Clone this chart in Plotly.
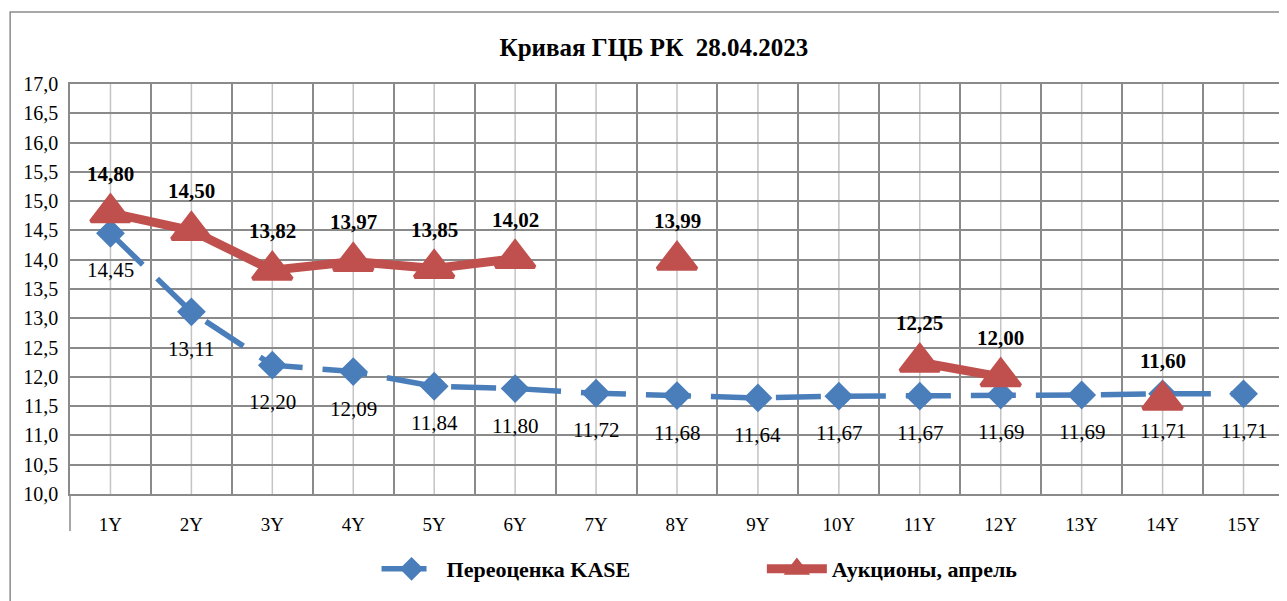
import plotly.graph_objects as go

categories = ["1Y", "2Y", "3Y", "4Y", "5Y", "6Y", "7Y", "8Y", "9Y", "10Y", "11Y", "12Y", "13Y", "14Y", "15Y"]
kase_values = [14.45, 13.11, 12.20, 12.09, 11.84, 11.80, 11.72, 11.68, 11.64, 11.67, 11.67, 11.69, 11.69, 11.71, 11.71]
auction_values = [14.80, 14.50, 13.82, 13.97, 13.85, 14.02, None, 13.99, None, None, 12.25, 12.00, None, 11.60, None]
y_ticks = [10.0 + 0.5 * i for i in range(15)]

BLUE = "#4A7EBB"
RED = "#C0504D"
DARK_GRID = "#8A8A8A"
LIGHT_GRID = "#C4C4C4"
FONT = "Liberation Serif"

fig = go.Figure()

fig.add_trace(go.Scatter(
    x=categories, y=kase_values, name="<b>Переоценка KASE</b>",
    mode="lines+markers",
    line=dict(color=BLUE, width=5.5, dash="45px,20px"),
    marker=dict(symbol="diamond", size=20, color=BLUE, line=dict(color=BLUE, width=2)),
    legend="legend",
))
fig.add_trace(go.Scatter(
    x=categories, y=auction_values, name="<b>Аукционы, апрель</b>",
    mode="lines+markers", connectgaps=False,
    line=dict(color=RED, width=9),
    marker=dict(symbol="triangle-up", size=34, color=RED, line=dict(color=RED, width=4)),
    legend="legend2",
))

annotations = []
for c, v in zip(categories, kase_values):
    annotations.append(dict(x=c, y=v, xref="x", yref="y", text=f"{v:.2f}".replace(".", ","),
                            showarrow=False, yshift=-37,
                            font=dict(family=FONT, size=21, color="black")))
for c, v in zip(categories, auction_values):
    if v is None:
        continue
    annotations.append(dict(x=c, y=v, xref="x", yref="y", text=f"<b>{v:.2f}</b>".replace(".", ","),
                            showarrow=False, yshift=39,
                            font=dict(family=FONT, size=21, color="black")))

shapes = []
# light center gridlines at each category
for i, c in enumerate(categories):
    shapes.append(dict(type="line", xref="x", yref="paper", x0=i, x1=i, y0=0, y1=1,
                       line=dict(color=LIGHT_GRID, width=1.5), layer="below"))
# axis extensions below the plot
shapes.append(dict(type="line", xref="paper", yref="paper", x0=0, x1=0, y0=0, y1=-0.09,
                   line=dict(color=DARK_GRID, width=1.5)))
shapes.append(dict(type="line", xref="paper", yref="paper", x0=1, x1=1, y0=0, y1=-0.09,
                   line=dict(color=DARK_GRID, width=1.5)))
# outer chart border
shapes.append(dict(type="rect", xref="paper", yref="paper", x0=-0.0493, x1=1.02, y0=-0.3, y1=1.1756,
                   line=dict(color="#8C8C8C", width=1.5), fillcolor="rgba(0,0,0,0)"))

fig.update_layout(
    width=1279, height=593,
    margin=dict(l=62, r=1, t=76, b=107),
    paper_bgcolor="white", plot_bgcolor="white",
    separators=", ",
    title=dict(text="<b>Кривая ГЦБ РК\u00a0 28.04.2023</b>", x=0.505, xanchor="center", y=0.934, yanchor="middle",
               font=dict(family=FONT, size=25, color="black")),
    xaxis=dict(type="category", categoryorder="array", categoryarray=categories,
               range=[-0.5, len(categories) - 0.5],
               tickson="boundaries", showgrid=True, gridcolor=DARK_GRID, gridwidth=1.5,
               showline=True, linecolor=DARK_GRID, linewidth=1.5, mirror=True,
               ticks="", ticklabelstandoff=12,
               tickfont=dict(family=FONT, size=19, color="black")),
    yaxis=dict(range=[10, 17], tickmode="array", tickvals=y_ticks, tickformat=".1f",
               showgrid=True, gridcolor=DARK_GRID, gridwidth=1.5, zeroline=False,
               showline=True, linecolor=DARK_GRID, linewidth=1.5, mirror=True,
               ticks="", ticklabelstandoff=6,
               tickfont=dict(family=FONT, size=20, color="black")),
    annotations=annotations,
    shapes=shapes,
    legend=dict(orientation="h", x=0.2525, xanchor="left", y=-0.183, yanchor="middle", itemwidth=60,
                font=dict(family=FONT, size=22, color="black"), bgcolor="rgba(0,0,0,0)"),
    legend2=dict(orientation="h", x=0.5699, xanchor="left", y=-0.183, yanchor="middle", itemwidth=60,
                 font=dict(family=FONT, size=22, color="black"), bgcolor="rgba(0,0,0,0)"),
    showlegend=True,
)

fig.write_html("out.html")
